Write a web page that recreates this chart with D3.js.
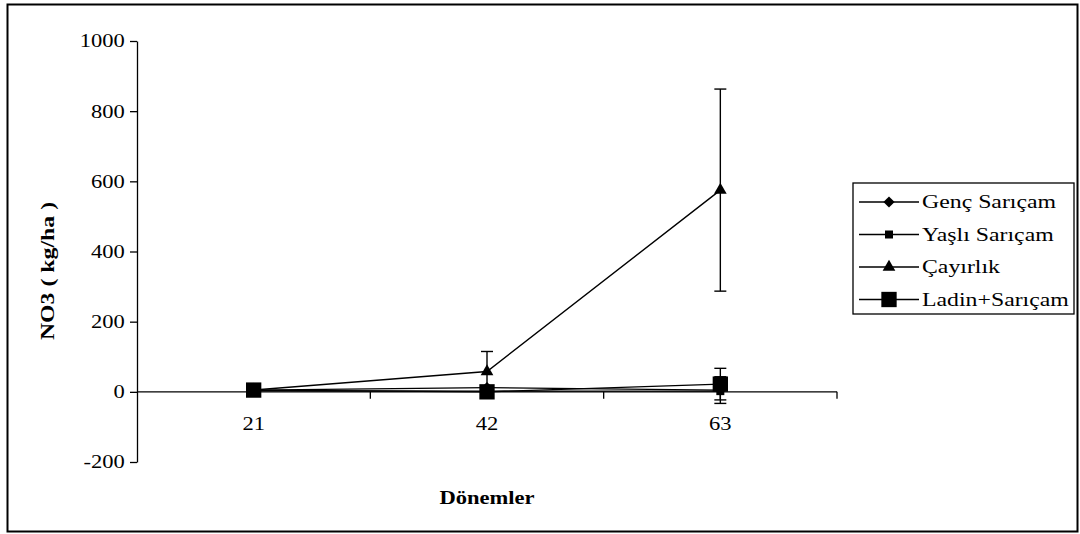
<!DOCTYPE html>
<html>
<head>
<meta charset="utf-8">
<script src="https://d3js.org/d3.v7.min.js"></script>
<style>
body { margin: 0; background: #fff; }
text { font-family: "Liberation Serif", "Times New Roman", serif; fill: #000; }
.axis path, .axis line { fill: none; stroke: #000; stroke-width: 1.3px; }
</style>
</head>
<body>
<svg id="chart" width="1080" height="534"></svg>
<script>
// data
var periods   = ["21", "42", "63"];
var yTicks    = [-200, 0, 200, 400, 600, 800, 1000];
var seriesNames = ["Genç Sarıçam", "Yaşlı Sarıçam", "Çayırlık", "Ladin+Sarıçam"];
var gencVals   = [5, 12, 5];
var gencErr    = [0, 0, 38];
var yasliVals  = [3, 2, 2];
var yasliErr   = [0, 0, 0];
var cayirVals  = [5, 58, 575];
var cayirErr   = [0, 57, 288];
var ladinVals  = [5, 0, 22];
var ladinErr   = [0, 0, 45];

var series = [
  {name: seriesNames[0], vals: gencVals,  err: gencErr,  sym: d3.symbolDiamond2, size: 80},
  {name: seriesNames[1], vals: yasliVals, err: yasliErr, sym: d3.symbolSquare,   size: 64},
  {name: seriesNames[2], vals: cayirVals, err: cayirErr, sym: d3.symbolTriangle, size: 70},
  {name: seriesNames[3], vals: ladinVals, err: ladinErr, sym: d3.symbolSquare,   size: 235}
];

var svg = d3.select("#chart");
var sx = 1.22; // the picture's text is stretched sideways

// outer frame
svg.append("rect")
  .attr("x", 7.5).attr("y", 4.5).attr("width", 1070).attr("height", 527)
  .attr("fill", "none").attr("stroke", "#000").attr("stroke-width", 2);

var x = d3.scaleBand().domain(periods).range([137, 837]).padding(0);
var y = d3.scaleLinear().domain([-200, 1000]).range([462, 41]);

// y axis
var yAxis = svg.append("g")
  .attr("class", "axis")
  .attr("transform", "translate(137,0)")
  .call(d3.axisLeft(y).tickValues(yTicks).tickSize(7).tickSizeOuter(0)
    .tickFormat(function(d){ return String(d); }));
yAxis.selectAll("text")
  .style("font-size", "18.5px")
  .attr("x", -10)
  .attr("transform", "scale(" + sx + ",1)");

// x axis at zero
var xg = svg.append("g").attr("class", "axis")
  .attr("transform", "translate(0," + y(0) + ")");
xg.append("line")
  .attr("x1", x.range()[0]).attr("x2", x.range()[1])
  .attr("y1", 0).attr("y2", 0);
var bounds = periods.map(function(d){ return x(d) + x.bandwidth(); });
xg.selectAll(".bt").data(bounds).enter().append("line")
  .attr("x1", function(d){ return d; }).attr("x2", function(d){ return d; })
  .attr("y1", 0).attr("y2", 7);
xg.selectAll(".xl").data(periods).enter().append("text")
  .attr("text-anchor", "middle")
  .attr("transform", function(d){ return "translate(" + (x(d) + x.bandwidth()/2) + ",38) scale(" + sx + ",1)"; })
  .style("font-size", "18.5px")
  .text(function(d){ return d; });

// axis titles
svg.append("text")
  .attr("text-anchor", "middle")
  .attr("transform", "translate(54,271) rotate(-90) scale(" + sx + ",1)")
  .style("font-size", "19.5px").style("font-weight", "bold")
  .text("NO3 ( kg/ha )");
svg.append("text")
  .attr("text-anchor", "middle")
  .attr("transform", "translate(487,504) scale(" + sx + ",1)")
  .style("font-size", "18.5px").style("font-weight", "bold")
  .text("Dönemler");

var cx = function(i){ return x(periods[i]) + x.bandwidth()/2; };
var line = d3.line()
  .x(function(d, i){ return cx(i); })
  .y(function(d){ return y(d); });

// lines
series.forEach(function(s){
  svg.append("path")
    .attr("d", line(s.vals))
    .attr("fill", "none").attr("stroke", "#000").attr("stroke-width", 1.4);
});

// error bars
series.forEach(function(s){
  s.vals.forEach(function(v, i){
    var e = s.err[i];
    if (!e) return;
    var g = svg.append("g").attr("stroke", "#000").attr("stroke-width", 1.4);
    g.append("line").attr("x1", cx(i)).attr("x2", cx(i)).attr("y1", y(v - e)).attr("y2", y(v + e));
    [v - e, v + e].forEach(function(t){
      g.append("line").attr("x1", cx(i) - 6).attr("x2", cx(i) + 6).attr("y1", y(t)).attr("y2", y(t));
    });
  });
});

// markers
series.forEach(function(s){
  svg.selectAll(null).data(s.vals).enter().append("path")
    .attr("d", d3.symbol().type(s.sym).size(s.size))
    .attr("transform", function(d, i){ return "translate(" + cx(i) + "," + y(d) + ")"; })
    .attr("fill", "#000");
});

// legend
var leg = svg.append("g").attr("transform", "translate(853,183)");
leg.append("rect").attr("x", 0).attr("y", 0).attr("width", 221).attr("height", 131)
  .attr("fill", "#fff").attr("stroke", "#000").attr("stroke-width", 1.3);
var item = leg.selectAll(".it").data(series).enter().append("g")
  .attr("transform", function(d, i){ return "translate(0," + (19 + i * 32.5) + ")"; });
item.append("line").attr("x1", 6).attr("x2", 66).attr("y1", 0).attr("y2", 0)
  .attr("stroke", "#000").attr("stroke-width", 1.4);
item.append("path")
  .attr("d", function(d){ return d3.symbol().type(d.sym).size(d.size)(); })
  .attr("transform", "translate(36,0)").attr("fill", "#000");
item.append("text")
  .attr("transform", "translate(69,6) scale(" + sx + ",1)")
  .style("font-size", "19.5px")
  .text(function(d){ return d.name; });
</script>
</body>
</html>
